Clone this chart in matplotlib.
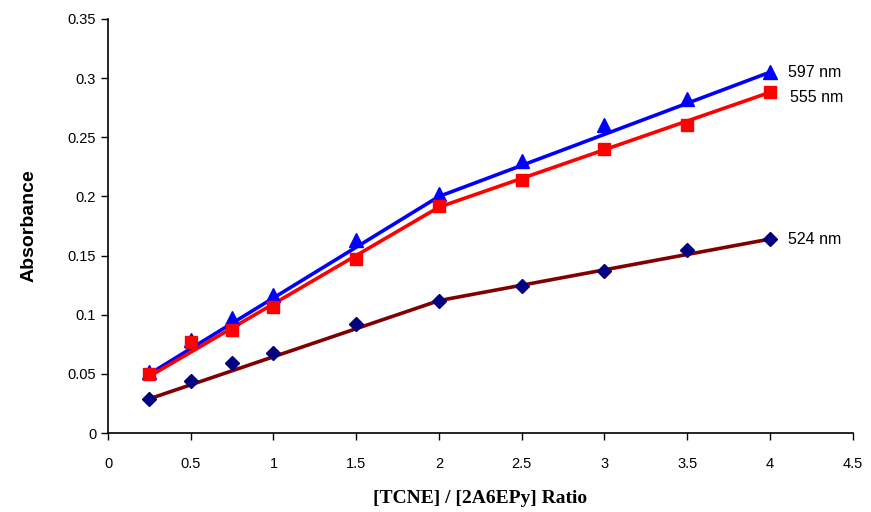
import numpy as np
import matplotlib
matplotlib.use("Agg")
import matplotlib.pyplot as plt

ratio = [0.25, 0.5, 0.75, 1.0, 1.5, 2.0, 2.5, 3.0, 3.5, 4.0]
abs_597 = [0.052, 0.079, 0.097, 0.117, 0.163, 0.202, 0.230, 0.260, 0.282, 0.305]
abs_555 = [0.050, 0.077, 0.087, 0.107, 0.147, 0.192, 0.214, 0.240, 0.260, 0.288]
abs_524 = [0.029, 0.044, 0.059, 0.068, 0.092, 0.112, 0.124, 0.137, 0.155, 0.164]

# trend lines: straight up to ratio 2, then straight to 4
line_597 = [0.050, 0.200, 0.305]
line_555 = [0.048, 0.191, 0.288]
line_524 = [0.029, 0.112, 0.164]
line_x = [0.25, 2.0, 4.0]

labels = ["597 nm", "555 nm", "524 nm"]

plt.rcParams['font.family'] = ['Liberation Sans', 'DejaVu Sans']

fig = plt.figure(figsize=(8.71, 5.12), dpi=100)
ax = fig.add_axes([0.124, 0.154, 0.855, 0.809])

ax.plot(line_x, line_597, color='#0000FF', lw=2.6, zorder=2)
ax.plot(line_x, line_555, color='#FF0000', lw=2.6, zorder=2)
ax.plot(line_x, line_524, color='#800000', lw=2.6, zorder=2)

ax.plot(ratio, abs_597, linestyle='none', marker='^', ms=10, color='#0000FF', zorder=3)
ax.plot(ratio, abs_555, linestyle='none', marker='s', ms=8, color='#FF0000', zorder=3)
ax.plot(ratio, abs_524, linestyle='none', marker='D', ms=7.5, color='#000080', zorder=3)

ax.text(ratio[-1] + 0.11, abs_597[-1], labels[0], fontsize=11.5, va='center')
ax.text(ratio[-1] + 0.12, abs_555[-1] - 0.004, labels[1], fontsize=11.5, va='center')
ax.text(ratio[-1] + 0.11, abs_524[-1], labels[2], fontsize=11.5, va='center')

ax.set_xlim(0, 4.5)
ax.set_ylim(0, 0.35)
ax.set_xticks(np.arange(0, 4.51, 0.5))
ax.set_yticks(np.arange(0, 0.351, 0.05))
ax.set_xticklabels(['0', '0.5', '1', '1.5', '2', '2.5', '3', '3.5', '4', '4.5'])
ax.set_yticklabels(['0', '0.05', '0.1', '0.15', '0.2', '0.25', '0.3', '0.35'])
ax.tick_params(labelsize=10.5, direction='out', length=5, width=1)
ax.tick_params(axis='x', pad=12)
for s in ['top', 'right']:
    ax.spines[s].set_visible(False)
for s in ['left', 'bottom']:
    ax.spines[s].set_linewidth(1.2)

ax.set_ylabel('Absorbance', fontsize=14, fontweight='bold', labelpad=22)
ax.set_xlabel('[TCNE] / [2A6EPy] Ratio', fontsize=14, fontweight='bold',
              family=['Liberation Serif'], labelpad=14)

fig.savefig('out.png', dpi=100)
